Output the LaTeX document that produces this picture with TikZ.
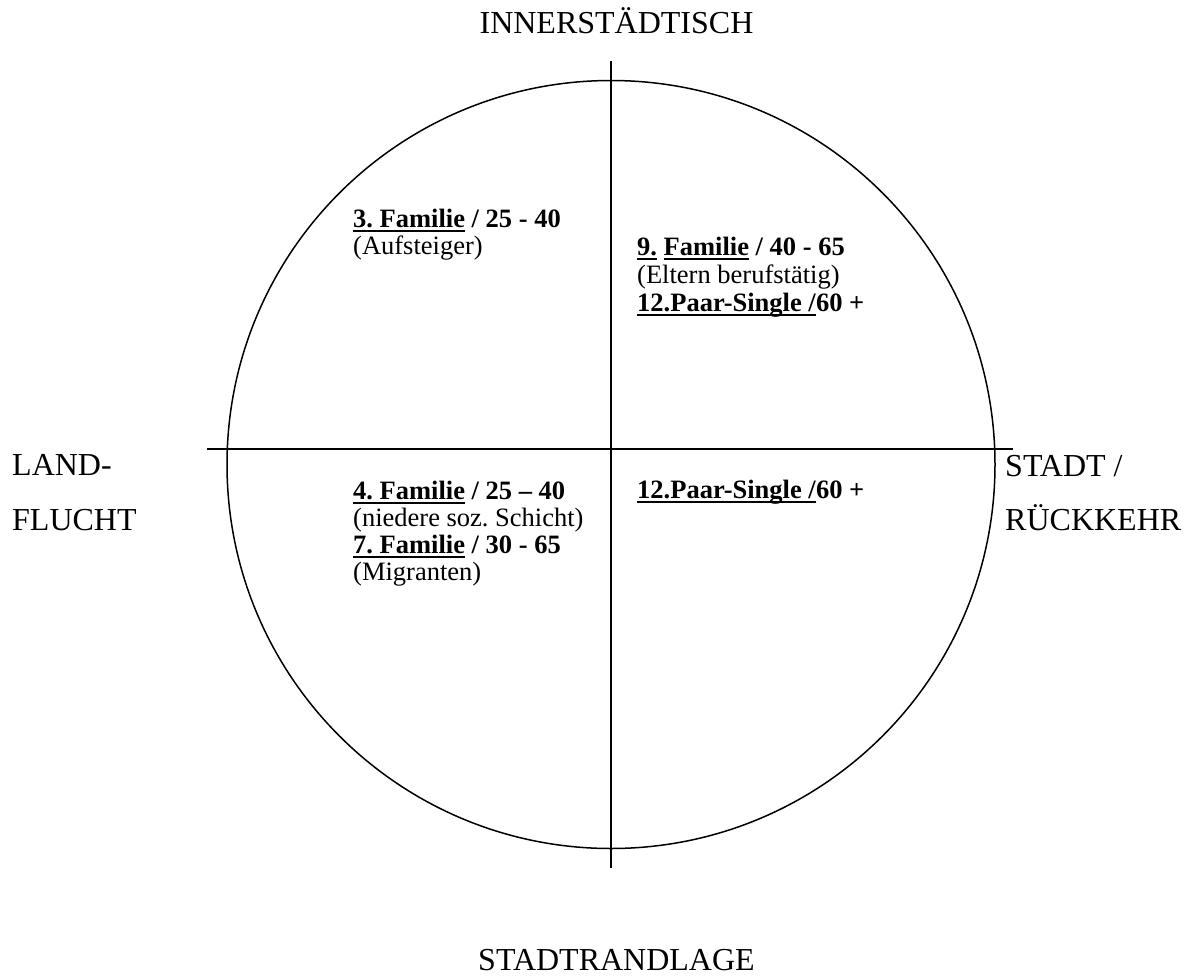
\documentclass[tikz,border=0pt]{standalone}
\usepackage{fontspec}
\setmainfont{Liberation Serif}
\frenchspacing
\newcommand\myul[1]{\setbox0\hbox{#1}\rlap{\rule[-4.8pt]{\wd0}{1.8pt}}\box0\relax}
\tikzset{
  lbl/.style={font=\fontsize{32}{38}\selectfont, inner sep=0pt},
  txt/.style={font=\fontsize{26.5}{27}\selectfont, inner sep=0pt, anchor=base west},
  axis/.style={line width=1.6pt},
}
\begin{document}
\begin{tikzpicture}[x=1pt,y=-1pt]
\useasboundingbox (0,0) rectangle (1189,975);
% circle
\node[circle, draw, line width=1.5pt, minimum size=768pt, inner sep=0pt] (c) at (611,464.5) {};
% axes
\coordinate (vt) at (611,61);
\coordinate (vb) at (611,868);
\coordinate (hl) at (207,449);
\coordinate (hr) at (1013,449);
\draw[axis] (vt) -- (vb);
\draw[axis] (hl) -- (hr);
% outer labels
\node[lbl, anchor=base] (top) at (616.5,33) {INNERSTÄDTISCH};
\node[lbl, anchor=base] (bot) at (616.5,970) {STADTRANDLAGE};
\node[lbl, anchor=base west] (l1) at (12,475) {LAND-};
\node[lbl, anchor=base west] (l2) at (12,530) {FLUCHT};
\node[lbl, anchor=base west] (r1) at (1005,476) {STADT /};
\node[lbl, anchor=base west] (r2) at (1005,530) {RÜCKKEHR};
% quadrant top-left
\node[txt] (a1) at (353,227) {\myul{\textbf{3. Familie}}\textbf{ / 25 - 40}};
\node[txt] (a2) at (353,254) {(Aufsteiger)};
% quadrant top-right
\node[txt] (b1) at (637,255) {\myul{\textbf{9.}} \myul{\textbf{Familie}}\textbf{ / 40 - 65}};
\node[txt] (b2) at (637,283) {(Eltern berufstätig)};
\node[txt] (b3) at (637,311) {\myul{\textbf{12.Paar-Single /}}\textbf{60 +}};
% quadrant bottom-left
\node[txt] (d1) at (353,499) {\myul{\textbf{4. Familie}}\textbf{ / 25 -- 40}};
\node[txt] (d2) at (353,526) {(niedere soz. Schicht)};
\node[txt] (d3) at (353,553) {\myul{\textbf{7. Familie}}\textbf{ / 30 - 65}};
\node[txt] (d4) at (353,580) {(Migranten)};
% quadrant bottom-right
\node[txt] (e1) at (637,498) {\myul{\textbf{12.Paar-Single /}}\textbf{60 +}};
\end{tikzpicture}
\end{document}
